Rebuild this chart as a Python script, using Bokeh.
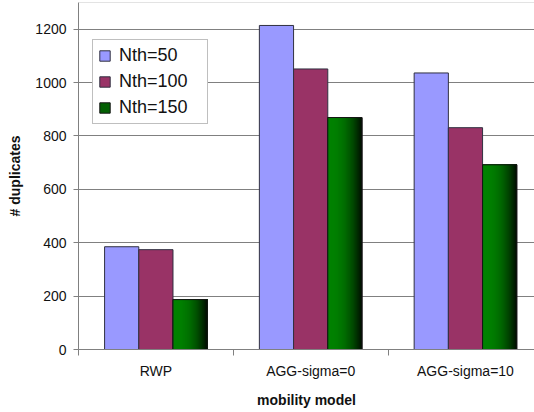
import numpy as np
from bokeh.plotting import figure
from bokeh.models import Range1d, FixedTicker, Legend, LegendItem, Span
from bokeh.embed import file_html
from bokeh.resources import INLINE

categories = ["RWP", "AGG-sigma=0", "AGG-sigma=10"]
series_names = ["Nth=50", "Nth=100", "Nth=150"]
nth50 = [385, 1214, 1036]
nth100 = [374, 1051, 831]
nth150 = [187, 869, 692]
y_ticks = [0, 200, 400, 600, 800, 1000, 1200]

FONT = "Liberation Sans"
GRAY = "#808080"
EDGE = "#303040"

p = figure(width=534, height=412, output_backend="svg", toolbar_location=None,
           x_range=Range1d(0, 2.946), y_range=Range1d(0, 1300),
           min_border_left=78, min_border_right=0, min_border_top=2, min_border_bottom=63)
p.outline_line_color = None
p.background_fill_color = "white"
p.border_fill_color = "white"

centers = np.arange(len(categories)) + 0.5
bw = 0.221

r50 = p.vbar(x=centers - bw, top=nth50, width=bw, fill_color="#9999FF", line_color=EDGE, line_width=1)
r100 = p.vbar(x=centers, top=nth100, width=bw, fill_color="#993366", line_color=EDGE, line_width=1)

# base green bar (also the legend swatch)
r150 = p.vbar(x=centers + bw, top=nth150, width=bw, fill_color="#036003", line_color="#151515", line_width=1)

# horizontal gradient: overlapping strips, each from its left edge to the bar's right edge
N = 30
right_edge = centers + bw + bw / 2
for k in range(N):
    t = k / N
    g = int(round(124 * (1 - t ** 2.3) + 6))
    col = "#%02x%02x%02x" % (0, g, 0)
    left = centers + bw - bw / 2 + k * bw / N
    p.vbar(x=(left + right_edge) / 2, top=nth150, width=right_edge - left,
           fill_color=col, line_color=None)
p.vbar(x=centers + bw, top=nth150, width=bw, fill_color=None, line_color="#151515", line_width=1)

p.add_layout(Span(location=1300, dimension="width", line_color="#c8c8c8", line_width=1))

# axes
yax = p.yaxis[0]
yax.ticker = FixedTicker(ticks=y_ticks)
yax.axis_line_color = GRAY
yax.major_tick_line_color = GRAY
yax.major_tick_out = 5
yax.major_tick_in = 0
yax.minor_tick_line_color = None
yax.major_label_text_font = FONT
yax.major_label_text_font_size = "14px"
yax.major_label_text_color = "#111111"
yax.major_label_standoff = 7
yax.axis_label = "# duplicates"
yax.axis_label_text_font = FONT
yax.axis_label_text_font_size = "14px"
yax.axis_label_text_font_style = "bold"
yax.axis_label_text_color = "#111111"
yax.axis_label_standoff = 9

xax = p.xaxis[0]
xax.ticker = FixedTicker(ticks=list(centers), minor_ticks=[0, 1, 2])
xax.major_label_overrides = {float(c): lab for c, lab in zip(centers, categories)}
xax.axis_line_color = GRAY
xax.major_tick_line_color = None
xax.major_tick_out = 0
xax.major_tick_in = 0
xax.minor_tick_line_color = GRAY
xax.minor_tick_out = 6
xax.minor_tick_in = 0
xax.major_label_text_font = FONT
xax.major_label_text_font_size = "14px"
xax.major_label_text_color = "#111111"
xax.major_label_standoff = 7
xax.axis_label = "mobility model"
xax.axis_label_text_font = FONT
xax.axis_label_text_font_size = "14px"
xax.axis_label_text_font_style = "bold"
xax.axis_label_text_color = "#111111"
xax.axis_label_standoff = 10

p.xgrid.grid_line_color = None
p.ygrid.ticker = FixedTicker(ticks=y_ticks)
p.ygrid.grid_line_color = GRAY
p.ygrid.grid_line_width = 1

legend = Legend(items=[LegendItem(label=series_names[0], renderers=[r50]),
                       LegendItem(label=series_names[1], renderers=[r100]),
                       LegendItem(label=series_names[2], renderers=[r150])],
                location=(14, 225), label_text_font=FONT, label_text_font_size="18px",
                label_text_color="#111111",
                glyph_width=13, glyph_height=13, label_height=18, label_width=83,
                spacing=5, padding=5,
                margin=0, label_standoff=8, border_line_color=GRAY, border_line_width=1,
                background_fill_color="white", background_fill_alpha=1)
p.add_layout(legend)

open("out.html", "w").write(file_html(p, INLINE))
